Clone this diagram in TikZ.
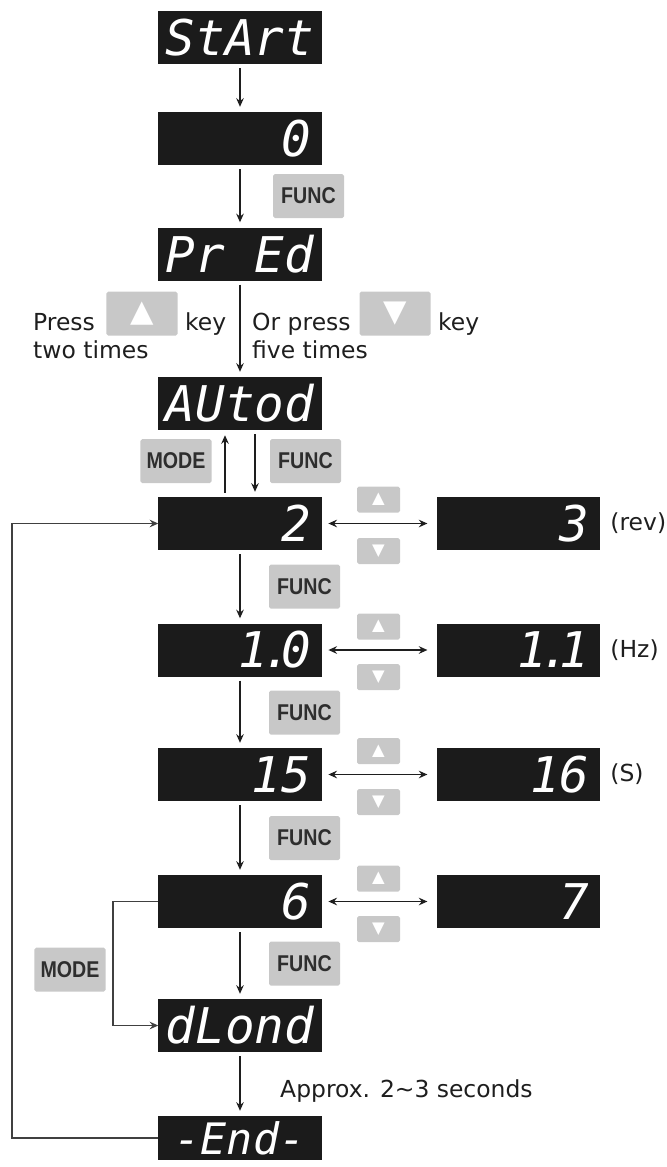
\documentclass[tikz,border=0pt]{standalone}
\usepackage{fontspec}
\setmainfont{DejaVu Sans}
\newfontfamily\lcdfont{DejaVu Sans Mono}
\newfontfamily\keyfont[FakeStretch=0.86]{Liberation Sans}
\newfontfamily\symfont{DejaVu Sans}
\usetikzlibrary{arrows.meta, positioning}
\definecolor{lcdbg}{HTML}{1B1B1B}
\definecolor{keygray}{HTML}{C8C8C8}
\definecolor{keytext}{HTML}{2E2E2E}
\definecolor{ink}{HTML}{1E1E1E}

\begin{document}
\begin{tikzpicture}[
      x=0.03cm, y=-0.03cm,
      lcd/.style={rectangle, fill=lcdbg, text=white, minimum width=4.89cm, minimum height=1.59cm, inner sep=0pt, font={\lcdfont\itshape\fontsize{42}{42}\selectfont}},
      lcdnum/.style={lcd, text width=4.25cm, align=right},
      key/.style={rectangle, rounded corners=1.5pt, fill=keygray, text=keytext, minimum width=2.13cm, minimum height=1.32cm, inner sep=0pt, font={\keyfont\bfseries\fontsize{19.5}{19.5}\selectfont}},
      arrowkey/.style={key, text=white, font={\symfont\fontsize{26}{26}\selectfont}},
      smallkey/.style={arrowkey, minimum width=1.29cm, minimum height=0.78cm, font={\symfont\fontsize{14}{14}\selectfont}},
      note/.style={inner sep=0pt, text=ink, font=\fontsize{20}{24}\selectfont},
      arr/.style={-{Stealth[length=2.6mm, width=2.3mm, inset=0.9mm]}, line width=1.1pt, draw=ink, shorten <=0.12cm, shorten >=0.15cm},
      dbl/.style={{Stealth[length=2.6mm, width=2.3mm, inset=0.9mm]}-{Stealth[length=2.6mm, width=2.3mm, inset=0.9mm]}, line width=1.1pt, draw=ink, shorten <=0.2cm, shorten >=0.28cm},
      back/.style={-{Stealth[length=2.6mm, width=2.3mm, inset=0.9mm]}, line width=0.9pt, draw=ink!85}
    ]
    \useasboundingbox (0,0) rectangle (667,1167);

    \node[lcd] (start) at (240,37.5) {StArt};
    \node[lcdnum] (zero) at (240,138.5) {0};
    \node[key] (func1) at (308.5,196) {FUNC};
    \node[lcd] (pred) at (240,254) {Pr Ed};

    \node[note, anchor=base west] (press) at (33,330) {Press};
    \node[arrowkey] (upkey) at (142,313.5) {▲};
    \node[note, anchor=base west] (keyup) at (185,330) {key};
    \node[note, anchor=base west] (twotimes) at (33,358) {two times};
    \node[note, anchor=base west] (orpress) at (252,330) {Or press};
    \node[arrowkey] (downkey) at (395,313.5) {▼};
    \node[note, anchor=base west] (keydown) at (438,330) {key};
    \node[note, anchor=base west] (fivetimes) at (252,358) {five times};

    \node[lcd] (autod) at (240,403.5) {AUtod};
    \node[key] (mode1) at (176,461) {MODE};
    \node[key] (func2) at (305.5,461) {FUNC};

    \node[lcdnum] (b2) at (240,523.5) {2};
    \node[lcdnum, right=3.45cm of b2] (r2) {3};
    \node[note, right=0.3cm of r2] (rev) {(rev)};
    \node[smallkey] (up2) at (378.5,499.5) {▲};
    \node[smallkey] (dn2) at (378.5,551) {▼};
    \node[key] (func3) at (304.5,586.5) {FUNC};

    \node[lcdnum] (b10) at (240,650) {1\kern-0.12em.\kern-0.22em0};
    \node[lcdnum, right=3.45cm of b10] (r10) {1\kern-0.12em.\kern-0.22em1};
    \node[note, right=0.3cm of r10] (hz) {(Hz)};
    \node[smallkey] (up10) at (378.5,626.5) {▲};
    \node[smallkey] (dn10) at (378.5,677) {▼};
    \node[key] (func4) at (304.5,712.5) {FUNC};

    \node[lcdnum] (b15) at (240,774.5) {15};
    \node[lcdnum, right=3.45cm of b15] (r15) {16};
    \node[note, right=0.3cm of r15] (sec) {(S)};
    \node[smallkey] (up15) at (378.5,751) {▲};
    \node[smallkey] (dn15) at (378.5,802) {▼};
    \node[key] (func5) at (304.5,838) {FUNC};

    \node[lcdnum] (b6) at (240,901.5) {6};
    \node[lcdnum, right=3.45cm of b6] (r6) {7};
    \node[smallkey] (up6) at (378.5,878.5) {▲};
    \node[smallkey] (dn6) at (378.5,929) {▼};
    \node[key] (func6) at (304.5,963.5) {FUNC};
    \node[key] (mode2) at (70,969.5) {MODE};

    \node[lcd] (dlond) at (240,1025.5) {dLond};
    \node[note, anchor=base west] (approx) at (280,1097) {Approx. 2\textasciitilde3 seconds};
    \node[lcd, minimum height=1.32cm, font={\lcdfont\itshape\fontsize{37}{37}\selectfont}] (endbox) at (240,1138) {-End-};

    \coordinate (backx) at (12,800);
    \coordinate (modex) at (113,960);

    \draw[arr] (start) -- (zero);
    \draw[arr] (zero) -- (pred);
    \draw[arr] (pred) -- (autod);
    \draw[arr] ([xshift=-0.45cm]b2.north) -- ([xshift=-0.45cm]autod.south);
    \draw[arr] ([xshift=0.45cm]autod.south) -- ([xshift=0.45cm]b2.north);
    \draw[arr] (b2) -- (b10);
    \draw[arr] (b10) -- (b15);
    \draw[arr] (b15) -- (b6);
    \draw[arr] (b6) -- (dlond);
    \draw[arr] (dlond) -- (endbox);

    \draw[dbl] (b2) -- (r2);
    \draw[dbl] (b10) -- (r10);
    \draw[dbl] (b15) -- (r15);
    \draw[dbl] (b6) -- (r6);

    \draw[back] (endbox.west) -| (backx) |- (b2.west);
    \draw[back] (b6.west) -| (modex) |- (dlond.west);
  \end{tikzpicture}
\end{document}
